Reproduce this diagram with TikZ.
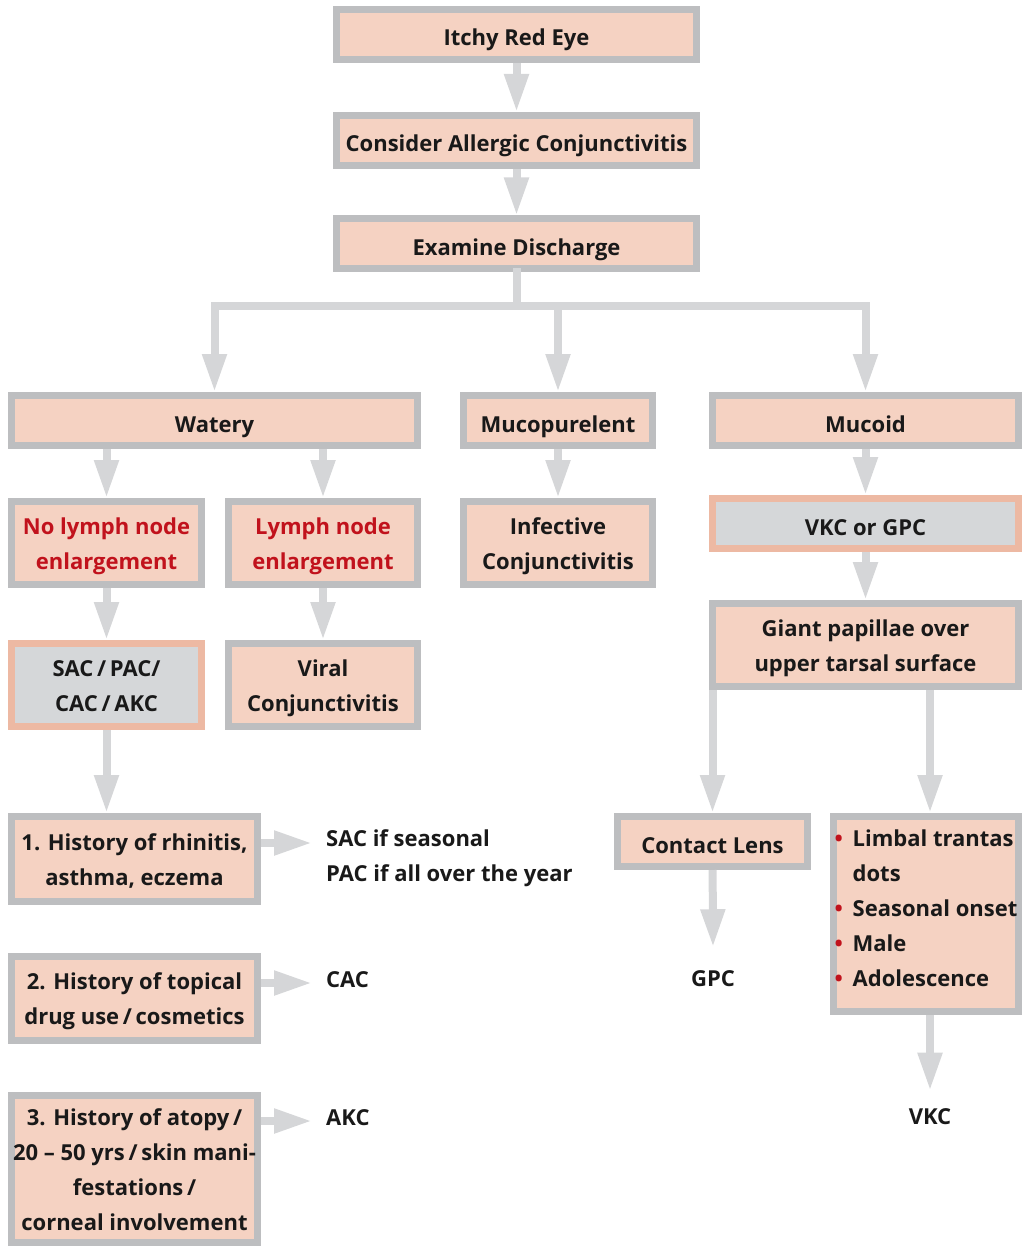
\documentclass[tikz,border=0pt]{standalone}
\usepackage{fontspec}
\setmainfont{Open Sans}
\usetikzlibrary{arrows.meta}
\definecolor{boxgray}{HTML}{BDBEC0}
\definecolor{boxpeach}{HTML}{F5D2C2}
\definecolor{arrowgray}{HTML}{D5D6D8}
\definecolor{edgepeach}{HTML}{EDB9A3}
\definecolor{fillgray}{HTML}{D5D7D9}
\definecolor{alertred}{HTML}{C1121C}
\newcommand{\topstrut}{\rule{0pt}{23pt}}
\newcommand{\botstrut}{\rule[-6pt]{0pt}{6pt}}
\newcommand{\dotitem}{\makebox[18pt][l]{\textcolor{alertred}{•}}}
\begin{document}
\begin{tikzpicture}[x=1pt, y=-1pt,
    every node/.style={inner sep=0pt, font=\bfseries\fontsize{22}{35}\selectfont, text=black!90, align=center},
    plainbox/.style={draw=boxgray, fill=boxpeach, line width=7pt},
    stepbox/.style={plainbox, execute at begin node=\rule{0pt}{29pt}, execute at end node=\botstrut},
    resultbox/.style={stepbox, draw=edgepeach, fill=fillgray},
    flow/.style={draw=arrowgray, line width=8pt, -{Triangle[length=38pt, width=23pt]}},
    bar/.style={draw=arrowgray, line width=8pt, line cap=rect}]
    \useasboundingbox (0,0) rectangle (1022,1246);
    \node[stepbox, minimum width=360pt, minimum height=50pt] (eye) at (516.5,34.5) {Itchy Red Eye};
    \node[stepbox, minimum width=360pt, minimum height=50pt] (allergic) at (516.5,140.5) {Consider Allergic Conjunctivitis};
    \node[stepbox, minimum width=360pt, minimum height=50pt] (disch) at (516.5,244) {Examine Discharge};
    \node[stepbox, minimum width=406pt, minimum height=50pt] (watery) at (214.5,420.5) {Watery};
    \node[stepbox, minimum width=189pt, minimum height=50pt] (mucopur) at (558,420.5) {Mucopurelent};
    \node[stepbox, minimum width=306pt, minimum height=50pt] (mucoid) at (865.5,420.5) {Mucoid};
    \node[stepbox, minimum width=190pt, minimum height=83pt, text=alertred] (nolymph) at (106.5,543) {\topstrut No lymph node\\enlargement};
    \node[stepbox, minimum width=189pt, minimum height=83pt, text=alertred] (lymph) at (323,543) {\topstrut Lymph node\\enlargement};
    \node[stepbox, minimum width=189pt, minimum height=83pt] (infect) at (558,543) {\topstrut Infective\\Conjunctivitis};
    \node[resultbox, minimum width=306pt, minimum height=50pt] (vkcgpc) at (865.5,523.5) {VKC or GPC};
    \node[resultbox, minimum width=190pt, minimum height=83pt] (sacpac) at (106.5,685) {\topstrut SAC\,/\,PAC/\\CAC\,/\,AKC};
    \node[stepbox, minimum width=189pt, minimum height=83pt] (viral) at (323,685) {\topstrut Viral\\Conjunctivitis};
    \node[stepbox, minimum width=306pt, minimum height=83pt] (giant) at (865.5,645) {\topstrut Giant papillae over\\upper tarsal surface};
    \node[stepbox, minimum width=246pt, minimum height=85pt] (hist1) at (134.5,859) {\topstrut 1. History of rhinitis,\\asthma, eczema};
    \node[stepbox, minimum width=246pt, minimum height=84pt] (hist2) at (134.5,998.5) {\topstrut 2. History of topical\\drug use\,/\,cosmetics};
    \node[stepbox, minimum width=246pt, minimum height=147pt] (hist3) at (134.5,1169) {\topstrut 3. History of atopy\,/\\20 -- 50 yrs\,/\,skin mani-\\festations\,/\\corneal involvement};
    \node[stepbox, minimum width=190pt, minimum height=50pt] (lens) at (712.5,841.5) {Contact Lens};
    \node[plainbox, minimum width=185pt, minimum height=195pt, align=left] (signs) at (926,914) {\dotitem Limbal trantas\\\hspace*{18pt}dots\\\dotitem Seasonal onset\\\dotitem Male\\\dotitem Adolescence\rule[-12pt]{0pt}{12pt}};
    \node[anchor=west, align=left] (seasonal) at (326,858) {SAC if seasonal\\PAC if all over the year};
    \node[anchor=west] (cac) at (326,979.5) {CAC};
    \node[anchor=west] (akc) at (326,1118) {AKC};
    \node (gpc) at (713,978.5) {GPC};
    \node (vkc) at (930,1117) {VKC};
    \coordinate (split) at (516.5,306);
    \draw[flow] (eye) -- (allergic);
    \draw[flow] (allergic) -- (disch);
    \draw[bar] (disch.south) -- (split);
    \draw[bar] (split -| watery.north) -- (split -| mucoid.north);
    \draw[flow] (split -| watery.north) -- (watery.north);
    \draw[flow] (split -| mucopur.north) -- (mucopur.north);
    \draw[flow] (split -| mucoid.north) -- (mucoid.north);
    \draw[flow] (watery.south -| nolymph.north) -- (nolymph.north);
    \draw[flow] (watery.south -| lymph.north) -- (lymph.north);
    \draw[flow] (mucopur) -- (infect);
    \draw[flow] (mucoid) -- (vkcgpc);
    \draw[flow] (nolymph) -- (sacpac);
    \draw[flow] (lymph) -- (viral);
    \draw[flow] (vkcgpc) -- (giant);
    \draw[flow] (sacpac.south) -- (sacpac.south |- hist1.north);
    \draw[flow] (giant.south -| lens.north) -- (lens.north);
    \draw[flow] (giant.south -| vkc) -- (signs.north -| vkc);
    \draw[flow, shorten >=14pt] ([yshift=16pt]hist1.east) -- ([yshift=16pt]hist1.east -| seasonal.west);
    \draw[flow, shorten >=14pt] ([yshift=15.5pt]hist2.east) -- ([yshift=15.5pt]hist2.east -| cac.west);
    \draw[flow, shorten >=14pt] ([yshift=48pt]hist3.east) -- ([yshift=48pt]hist3.east -| akc.west);
    \draw[flow] (lens) -- ([yshift=23pt]gpc.north);
    \draw[flow] (signs.south -| vkc) -- ([yshift=18pt]vkc.north);
\end{tikzpicture}
\end{document}
